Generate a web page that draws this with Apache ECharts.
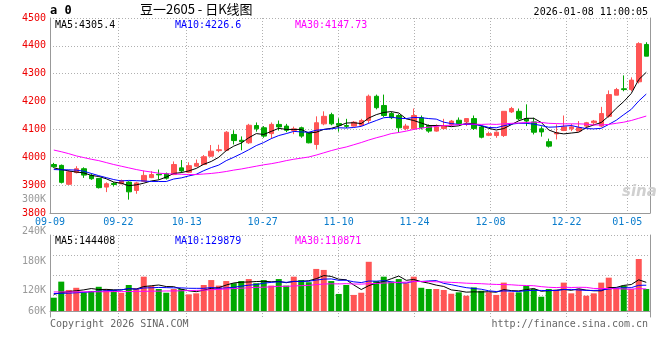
<!DOCTYPE html>
<html><head><meta charset="utf-8">
<script src="https://cdn.jsdelivr.net/npm/echarts/dist/echarts.min.js"></script>
<style>html,body{margin:0;padding:0;background:#fff}#c{width:660px;height:360px}</style>
</head><body><div id="c"></div>
<script>
const dates = ['09-09','09-10','09-11','09-12','09-15','09-16','09-17','09-18','09-19','09-22','09-23','09-24','09-25','09-26','09-29','09-30','10-09','10-10','10-13','10-14','10-15','10-16','10-17','10-20','10-21','10-22','10-23','10-24','10-27','10-28','10-29','10-30','10-31','11-03','11-04','11-05','11-06','11-07','11-10','11-11','11-12','11-13','11-14','11-17','11-18','11-19','11-20','11-21','11-24','11-25','11-26','11-27','11-28','12-01','12-02','12-03','12-04','12-05','12-08','12-09','12-10','12-11','12-12','12-15','12-16','12-17','12-18','12-19','12-22','12-23','12-24','12-25','12-26','12-29','12-30','12-31','01-05','01-06','01-07','01-08'];
const tickDates = ['09-09','09-22','10-13','10-27','11-10','11-24','12-08','12-22','01-05'];
const priceTicks = [3800,3900,4000,4100,4200,4300,4400,4500];
const volTickLabels = ['240K','180K','120K','60K'];
const open = [3974,3971,3903,3945,3959,3935,3924,3893,3906,3905,3911,3881,3914,3927,3939,3941,3938,3962,3946,3968,3974,4004,4024,4025,4082,4061,4052,4114,4106,4085,4118,4112,4096,4106,4088,4046,4120,4153,4121,4114,4112,4115,4132,4219,4186,4157,4150,4103,4102,4142,4114,4094,4103,4118,4133,4127,4139,4109,4079,4078,4078,4163,4165,4139,4127,4102,4056,4084,4096,4102,4094,4112,4124,4112,4147,4223,4246,4243,4271,4405];
const close = [3966,3910,3948,3959,3936,3923,3891,3905,3902,3916,3876,3908,3935,3938,3937,3925,3974,3951,3970,3978,4002,4022,4027,4090,4060,4056,4115,4102,4076,4118,4109,4097,4102,4076,4052,4124,4147,4120,4115,4111,4126,4132,4219,4178,4150,4142,4106,4112,4150,4106,4094,4109,4112,4130,4121,4139,4103,4072,4085,4090,4165,4175,4138,4130,4090,4091,4040,4088,4109,4109,4106,4124,4130,4157,4225,4243,4243,4277,4408,4363];
const high = [3980,3974,3954,3968,3964,3942,3926,3910,3911,3920,3914,3912,3952,3950,3956,3945,3985,3990,3982,3992,4008,4044,4045,4094,4097,4075,4120,4125,4112,4125,4132,4120,4110,4110,4090,4147,4165,4160,4140,4138,4130,4138,4225,4225,4225,4163,4155,4120,4175,4150,4118,4118,4138,4134,4143,4139,4150,4113,4092,4093,4165,4181,4175,4190,4142,4111,4067,4118,4150,4120,4130,4127,4134,4181,4240,4249,4294,4287,4413,4413];
const low = [3962,3906,3901,3942,3926,3919,3888,3875,3895,3903,3848,3869,3912,3925,3920,3920,3936,3945,3943,3966,3972,4002,4018,4022,4046,4025,4048,4092,4070,4068,4096,4090,4083,4070,4050,4028,4115,4115,4092,4105,4110,4112,4122,4172,4145,4137,4088,4097,4100,4100,4088,4092,4100,4112,4118,4112,4098,4068,4076,4070,4073,4159,4133,4112,4082,4074,4035,4064,4094,4094,4094,4106,4115,4108,4142,4223,4237,4237,4265,4363];
const ma5 = [3962,3956,3951,3947,3944,3935,3931,3923,3911,3907,3898,3901,3907,3915,3919,3929,3942,3945,3951,3960,3975,3985,4000,4024,4040,4051,4070,4085,4082,4093,4104,4100,4100,4100,4087,4090,4100,4104,4112,4123,4124,4121,4141,4153,4161,4164,4159,4138,4132,4123,4114,4114,4114,4110,4113,4122,4121,4113,4104,4098,4103,4117,4131,4140,4140,4125,4098,4088,4084,4087,4090,4107,4116,4125,4148,4176,4200,4229,4279,4305];
const ma10 = [3956,3955,3955,3954,3950,3942,3934,3927,3920,3915,3917,3916,3915,3913,3913,3913,3922,3926,3933,3939,3952,3963,3972,3988,4000,4013,4027,4042,4053,4067,4078,4085,4093,4091,4090,4097,4100,4102,4106,4105,4107,4111,4122,4132,4142,4144,4140,4139,4143,4142,4139,4137,4126,4121,4118,4118,4118,4114,4107,4106,4113,4119,4122,4122,4119,4114,4108,4109,4112,4114,4108,4103,4102,4104,4118,4133,4153,4172,4202,4227];
const ma30 = [4026,4020,4013,4005,3999,3993,3988,3981,3974,3968,3962,3956,3951,3947,3943,3941,3940,3939,3938,3938,3940,3942,3945,3949,3954,3958,3963,3968,3973,3977,3982,3988,3993,3997,4001,4008,4016,4024,4031,4037,4045,4053,4062,4070,4077,4085,4089,4094,4100,4105,4108,4111,4114,4115,4117,4120,4119,4118,4119,4118,4120,4122,4123,4125,4126,4125,4122,4121,4120,4120,4120,4119,4116,4116,4118,4122,4126,4132,4140,4148];
const vol = [67,148,106,117,94,101,122,111,106,92,131,114,173,126,111,92,111,111,84,89,131,156,128,151,140,151,161,140,156,128,161,128,173,156,145,212,207,151,86,131,81,92,248,151,173,148,161,140,173,117,111,111,106,87,94,77,119,102,94,81,143,94,94,126,111,72,111,106,143,89,111,77,89,143,168,117,128,111,262,111];
const volMa5 = [84,92,98,102,106.4,113.2,108,109,106.8,106.4,112.4,110.8,123.2,127.2,131,123.2,122.6,110.2,101.8,97.4,105.2,114.2,117.6,131,141.2,145.2,146.2,148.6,149.6,147.2,149.2,142.6,149.2,149.2,152.6,162.8,178.6,174.2,160.2,157.4,131.2,108.2,127.6,140.6,149,162.4,176.2,154.6,159,147.8,140.4,130.4,123.6,106.4,101.8,95,96.6,95.8,97.2,94.6,107.8,102.8,101.2,107.6,113.6,99.4,102.8,105.2,108.6,104.2,112,105.2,101.8,101.8,117.6,118.8,129,133.4,157.2,144.4];
const volMa10 = [88,89,90,92,94,97,100,102,104,106.4,112.8,109.4,116.1,117,118.7,117.8,116.7,116.7,114.5,114.2,114.2,118.4,113.9,116.4,119.3,125.2,130.2,133.1,140.3,144.2,147.2,144.4,148.9,149.4,149.9,156,160.6,161.7,154.7,155,147,143.4,150.9,150.4,153.2,146.8,142.2,141.1,149.8,148.4,151.4,153.3,139.1,132.7,124.8,117.7,113.5,109.7,101.8,98.2,101.4,99.7,98.5,102.4,104.1,103.6,102.8,103.2,108.1,108.9,105.7,104,103.5,105.2,110.9,115.4,117.1,117.6,129.5,129.9];
const volMa30 = [96,96,96,96,97,97,97,97,98,98,98,99,99,100,100,101,101,102,103,104,105,107,109,111,113,115,117,119,120,121.6,124.7,124.1,126.3,127.6,129.3,133,135.8,137.2,136.5,137.8,136.1,135.4,137.9,138.7,140.8,142.7,144.3,145.3,148.3,149.2,148.5,147,146.3,144.2,142.6,140.2,138.8,137.5,135.4,133.9,133.3,132.1,129.5,128.5,127.4,122.7,119.5,118,119.9,118.5,119.5,119,113.7,113.4,113.3,112.2,111.1,110.2,113.1,110.9];
const priceLegend = ['MA5:4305.4','MA10:4226.6','MA30:4147.73'];
const volLegend = ['MA5:144408','MA10:129879','MA30:110871'];
const titleText = '豆一2605 - 日K线图';
const timeText = '2026-01-08 11:00:05';

const RED = '#ff5555', GREEN = '#00a800', AX = '#999999', GRIDC = '#b0b0b0';
const MONO = '"DejaVu Sans Mono", "Liberation Mono", monospace';
const kdata = open.map((o, i) => [o, close[i], low[i], high[i]]);
const volData = vol.map((v, i) => ({value: v, itemStyle: {color: close[i] > open[i] ? RED : GREEN}}));
const isTick = (idx, val) => tickDates.indexOf(val) >= 0;
const dotted = {show: true, interval: isTick, lineStyle: {color: GRIDC, type: [1, 2], width: 1}};

const chart = echarts.init(document.getElementById('c'), null, {renderer: 'canvas'});
const mk = (name, data, color, xi, yi) => ({type: 'line', name, data, xAxisIndex: xi, yAxisIndex: yi, symbol: 'none', silent: true,
  lineStyle: {color, width: 1}, itemStyle: {color}, z: 5});
const txt = (t, x, y, color, font, align) => ({type: 'text', x, y, silent: true, z: 100,
  style: {text: t, fill: color, font, textAlign: align || 'left', textVerticalAlign: 'middle'}});

chart.setOption({
  animation: false,
  backgroundColor: '#fff',
  grid: [
    {left: 50, top: 18, width: 600, height: 195},
    {left: 50, top: 235, width: 600, height: 82},
    {left: 50, top: 235, width: 600, height: 60}
  ],
  xAxis: [
    {type: 'category', gridIndex: 0, data: dates, boundaryGap: true, position: 'bottom', axisLine: {lineStyle: {color: AX}}, axisTick: {show: false}, axisLabel: {show: false}, splitLine: {show: false}},
    {type: 'category', gridIndex: 0, data: dates, boundaryGap: false, position: 'bottom', axisLine: {show: false}, axisTick: {show: false},
      axisLabel: {show: true, interval: isTick, color: '#0a7ccc', fontFamily: MONO, fontSize: 10, margin: 4}, splitLine: dotted},
    {type: 'category', gridIndex: 1, data: dates, boundaryGap: true, position: 'bottom', axisLine: {lineStyle: {color: AX}}, axisTick: {show: false}, axisLabel: {show: false}, splitLine: {show: false}},
    {type: 'category', gridIndex: 1, data: dates, boundaryGap: false, position: 'bottom', axisLine: {show: false}, axisTick: {show: false}, axisLabel: {show: false}, splitLine: dotted},
    {type: 'value', gridIndex: 2, min: 0, max: 1, show: false}
  ],
  yAxis: [
    {type: 'value', gridIndex: 0, min: priceTicks[0], max: priceTicks[priceTicks.length - 1], interval: 100, position: 'left',
      axisLine: {show: true, lineStyle: {color: AX}}, axisTick: {show: false},
      axisLabel: {color: '#ee0000', fontFamily: MONO, fontSize: 10, margin: 4, formatter: v => String(v)},
      splitLine: {show: true, lineStyle: {color: GRIDC, type: [1, 2], width: 1}}},
    {type: 'value', gridIndex: 0, min: 0, max: 1, position: 'right', axisLine: {show: true, lineStyle: {color: AX}}, axisTick: {show: false}, axisLabel: {show: false}, splitLine: {show: false}},
    {type: 'value', gridIndex: 1, min: -30.24, max: 383.04, position: 'left', axisLine: {show: true, lineStyle: {color: AX}}, axisTick: {show: false}, axisLabel: {show: false}, splitLine: {show: false}},
    {type: 'value', gridIndex: 1, min: 0, max: 1, position: 'right', axisLine: {show: true, lineStyle: {color: AX}}, axisTick: {show: false}, axisLabel: {show: false}, splitLine: {show: false}},
    {type: 'value', gridIndex: 2, min: 0, max: 60, interval: 20, axisLine: {show: false}, axisTick: {show: false}, axisLabel: {show: false},
      splitLine: {show: true, lineStyle: {color: GRIDC, type: [1, 2], width: 1}}}
  ],
  series: [
    {type: 'candlestick', name: 'k', data: kdata, xAxisIndex: 0, yAxisIndex: 0, barWidth: 5, silent: true,
      itemStyle: {color: RED, color0: GREEN, borderColor: RED, borderColor0: GREEN, borderWidth: 1}, z: 3},
    mk('MA5', ma5, '#000000', 0, 0),
    mk('MA10', ma10, '#0000ff', 0, 0),
    mk('MA30', ma30, '#ff00ff', 0, 0),
    {type: 'bar', name: 'vol', data: volData, xAxisIndex: 2, yAxisIndex: 2, barWidth: 6, silent: true, z: 3},
    mk('VMA5', volMa5, '#000000', 2, 2),
    mk('VMA10', volMa10, '#0000ff', 2, 2),
    mk('VMA30', volMa30, '#ff00ff', 2, 2)
  ],
  graphic: [
    txt('a 0', 50, 11, '#000', 'bold 12px ' + MONO),
    txt(titleText, 140, 9, '#000', '13px "Noto Sans CJK SC", sans-serif'),
    txt(timeText, 648, 12, '#000', '10px ' + MONO, 'right'),
    txt(priceLegend[0], 55, 25, '#000', '10px ' + MONO),
    txt(priceLegend[1], 175, 25, '#0000ff', '10px ' + MONO),
    txt(priceLegend[2], 295, 25, '#ff00ff', '10px ' + MONO),
    txt('300K', 46, 199, '#999', '10px ' + MONO, 'right'),
    txt(volTickLabels[0], 46, 231, '#999', '10px ' + MONO, 'right'),
    txt(volTickLabels[1], 46, 261, '#999', '10px ' + MONO, 'right'),
    txt(volTickLabels[2], 46, 290, '#999', '10px ' + MONO, 'right'),
    txt(volTickLabels[3], 46, 311, '#999', '10px ' + MONO, 'right'),
    txt(volLegend[0], 55, 241, '#000', '10px ' + MONO),
    txt(volLegend[1], 175, 241, '#0000ff', '10px ' + MONO),
    txt(volLegend[2], 295, 241, '#ff00ff', '10px ' + MONO),
    txt('sina', 622, 192, '#d0d0d0', 'italic bold 15px "DejaVu Sans", sans-serif'),
    txt('Copyright 2026 SINA.COM', 50, 324, '#666', '10px ' + MONO),
    txt('http://finance.sina.com.cn', 648, 324, '#666', '10px ' + MONO, 'right')
  ]
});
</script></body></html>
